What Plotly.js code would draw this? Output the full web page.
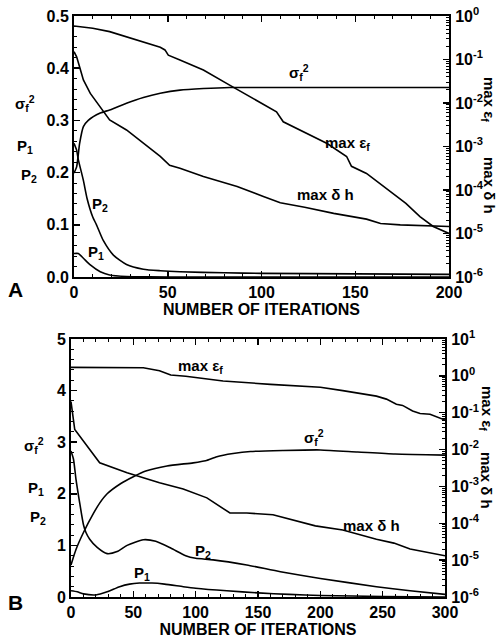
<!DOCTYPE html>
<html>
<head>
<meta charset="utf-8">
<script src="https://cdn.plot.ly/plotly-3.0.1.min.js"></script>
<style>html,body{margin:0;padding:0;background:#fff;}</style>
</head>
<body>
<div id="chart" style="width:499px;height:643px;"></div>
<script>
// ---------- Panel A (0..200 iterations) ----------
const aEpsIter = [0,10,19,28,37,46,48.5,50.3,56.5,69,83,95.6,108,111.6,120,126,135,145.4,148,156,165,177,184.5,191.6,200];
const aEps     = [0.589,0.525,0.437,0.331,0.251,0.191,0.166,0.126,0.0977,0.0575,0.0257,0.0129,0.0063,0.0037,0.00245,0.00182,0.00117,5.9e-4,3.5e-4,2.4e-4,1.2e-4,4.9e-5,2.45e-5,1.45e-5,1.0e-5];

const aDhIter = [0,1.4,3,5,8.7,14,19,28,37,46,51,56.5,69,87,101,110,123,138.5,156,163.5,174,200];
const aDh     = [0.151,0.115,0.0676,0.0339,0.0166,0.00813,0.00407,0.0024,0.00117,5.9e-4,3.7e-4,3.16e-4,2.04e-4,1.2e-4,7.1e-5,5.1e-5,4.0e-5,2.9e-5,2.14e-5,1.7e-5,1.58e-5,1.45e-5];

const aSigIter = [0,1.4,3,5,7.6,14,19,28,37,46,56.5,69,83,120,160,200];
const aSig     = [0.199,0.211,0.256,0.288,0.300,0.314,0.320,0.333,0.344,0.352,0.358,0.361,0.363,0.363,0.363,0.363];

const aP2Iter = [0,1.4,2.3,5,7,10,12,15.6,21,28,37,46,56.5,80,100,150,200];
const aP2     = [0.256,0.243,0.225,0.185,0.150,0.115,0.100,0.070,0.042,0.024,0.015,0.012,0.010,0.008,0.007,0.006,0.005];

const aP1Iter = [0,2.3,5,8.7,14,19,28,40,60,100,200];
const aP1     = [0.045,0.045,0.036,0.023,0.010,0.004,0.001,0.0003,0,0,0];

// ---------- Panel B (0..300 iterations) ----------
const bEpsIter = [0,30,58,71,80,92,122,160,200,218,245,253,261,266,274,280,288,300];
const bEps     = [1.70,1.70,1.66,1.38,1.05,0.977,0.724,0.589,0.49,0.398,0.282,0.234,0.17,0.158,0.112,0.0955,0.0912,0.063];

const bDhIter = [0,3,23,45,71,90,109,127.5,141,162,196,218,245,259,272,300];
const bDh     = [0.2,0.035,0.0044,0.00234,0.00126,8.5e-4,4.9e-4,1.9e-4,1.9e-4,1.7e-4,8.5e-5,6.6e-5,3.7e-5,2.9e-5,2.0e-5,1.32e-5];

const bSigIter = [0,4,10,18,23,29,40,50,60,77,98,108,117,130,144,170,200,230,260,300];
const bSig     = [0.62,0.92,1.25,1.62,1.82,2.00,2.20,2.33,2.44,2.54,2.60,2.64,2.72,2.78,2.82,2.84,2.85,2.81,2.77,2.75];

const bP2Iter = [0,2,4,7,10,12,15,21,29,37,45,58,68,80,92,100,114,141,168,200,245,272,300];
const bP2     = [2.83,2.67,2.28,1.82,1.40,1.25,1.12,0.96,0.84,0.88,1.00,1.11,1.08,0.95,0.80,0.75,0.72,0.62,0.49,0.36,0.20,0.12,0.05];

const bP1Iter = [0,5,10,20,29,39,47,55,65,75,90,100,125,150,175,200,250,300];
const bP1     = [0.12,0.10,0.06,0.04,0.10,0.20,0.25,0.27,0.27,0.25,0.20,0.17,0.12,0.08,0.05,0.03,0.01,0.0];

// tick labels
const aLeftTicks = [0,0.1,0.2,0.3,0.4,0.5];
const aLogTicks = [1e-6,1e-5,1e-4,1e-3,1e-2,1e-1,1];
const aLogText = ['10<sup>-6</sup>','10<sup>-5</sup>','10<sup>-4</sup>','10<sup>-3</sup>','10<sup>-2</sup>','10<sup>-1</sup>','10<sup>0</sup>'];
const aXTicks = [0,50,100,150,200];
const bLeftTicks = [0,1,2,3,4,5];
const bLogTicks = [1e-6,1e-5,1e-4,1e-3,1e-2,1e-1,1,10];
const bLogText = ['10<sup>-6</sup>','10<sup>-5</sup>','10<sup>-4</sup>','10<sup>-3</sup>','10<sup>-2</sup>','10<sup>-1</sup>','10<sup>0</sup>','10<sup>1</sup>'];
const bXTicks = [0,50,100,150,200,250,300];

function minorLog(lo, hi){ const v=[]; for(let e=lo;e<hi;e++){ for(let k=2;k<=9;k++) v.push(k*Math.pow(10,e)); } return v; }

const FONT = 'Liberation Sans, Arial, Helvetica, sans-serif';
const line = {color:'black', width:1.6};
const sline = {color:'black', width:1.6, shape:'spline', smoothing:0.6};

const traces = [
  {x:aEpsIter, y:aEps, xaxis:'x', yaxis:'y2', mode:'lines', line:line, name:'max eps_f'},
  {x:aDhIter, y:aDh, xaxis:'x', yaxis:'y2', mode:'lines', line:line, name:'max dh'},
  {x:aSigIter, y:aSig, xaxis:'x', yaxis:'y', mode:'lines', line:sline, name:'sigma_f^2'},
  {x:aP2Iter, y:aP2, xaxis:'x', yaxis:'y', mode:'lines', line:sline, name:'P2'},
  {x:aP1Iter, y:aP1, xaxis:'x', yaxis:'y', mode:'lines', line:sline, name:'P1'},
  {x:bEpsIter, y:bEps, xaxis:'x2', yaxis:'y4', mode:'lines', line:line, name:'max eps_f B'},
  {x:bDhIter, y:bDh, xaxis:'x2', yaxis:'y4', mode:'lines', line:line, name:'max dh B'},
  {x:bSigIter, y:bSig, xaxis:'x2', yaxis:'y3', mode:'lines', line:sline, name:'sigma_f^2 B'},
  {x:bP2Iter, y:bP2, xaxis:'x2', yaxis:'y3', mode:'lines', line:sline, name:'P2 B'},
  {x:bP1Iter, y:bP1, xaxis:'x2', yaxis:'y3', mode:'lines', line:sline, name:'P1 B'}
];

const tickfont = {family:FONT, size:16, color:'black', weight:'bold'};
const common = {showline:true, linecolor:'black', linewidth:2, showgrid:false, zeroline:false,
  ticks:'inside', ticklen:6, tickwidth:1.5, tickcolor:'black', tickfont:tickfont};

function px(x){return x/499;}
function py(y){return 1 - y/643;}

const layout = {
  width:499, height:643, margin:{l:0,r:0,t:0,b:0},
  paper_bgcolor:'white', plot_bgcolor:'white', showlegend:false,
  font:{family:FONT, size:15, color:'black', weight:'bold'},
  xaxis: Object.assign({}, common, {domain:[px(74),px(449)], anchor:'y', range:[0,200], tickvals:aXTicks,
    mirror:'ticks', minor:{dtick:10, ticks:'inside', ticklen:3, tickwidth:1, tickcolor:'black'},
    title:{text:'NUMBER OF ITERATIONS', font:{family:FONT, size:16, weight:'bold'}, standoff:0}}),
  yaxis: Object.assign({}, common, {domain:[py(277),py(16)], anchor:'x', range:[0,0.5], tickvals:aLeftTicks,
    tickformat:'.1f', ticklabelstandoff:0, minor:{dtick:0.02, ticks:'inside', ticklen:3, tickwidth:1, tickcolor:'black'}}),
  yaxis2: Object.assign({}, common, {overlaying:'y', side:'right', anchor:'x', type:'log', range:[-6,0],
    tickvals:aLogTicks, ticktext:aLogText, ticklabelstandoff:1,
    minor:{tickvals:minorLog(-6,0), ticks:'inside', ticklen:3, tickwidth:1, tickcolor:'black'}}),
  xaxis2: Object.assign({}, common, {domain:[px(71),px(445)], anchor:'y3', range:[0,300], tickvals:bXTicks,
    mirror:'ticks', minor:{dtick:10, ticks:'inside', ticklen:3, tickwidth:1, tickcolor:'black'},
    title:{text:'NUMBER OF ITERATIONS', font:{family:FONT, size:16, weight:'bold'}, standoff:0}}),
  yaxis3: Object.assign({}, common, {domain:[py(597),py(339)], anchor:'x2', range:[0,5], tickvals:bLeftTicks,
    ticklabelstandoff:0, minor:{dtick:0.2, ticks:'inside', ticklen:3, tickwidth:1, tickcolor:'black'}}),
  yaxis4: Object.assign({}, common, {overlaying:'y3', side:'right', anchor:'x2', type:'log', range:[-6,1],
    tickvals:bLogTicks, ticktext:bLogText, ticklabelstandoff:1,
    minor:{tickvals:minorLog(-6,1), ticks:'inside', ticklen:3, tickwidth:1, tickcolor:'black'}}),
  annotations: []
};

const af = {family:FONT, size:15, color:'black', weight:'bold'};
function ann(text, x, y, xref, yref, extra){
  return Object.assign({text:text, x:x, y:y, xref:xref, yref:yref, showarrow:false, font:af,
    xanchor:'center', yanchor:'middle'}, extra||{});
}
layout.annotations.push(
  // panel A, inside
  ann('σ<sub>f</sub><sup>2</sup>', 120, 0.392, 'x', 'y'),
  ann('max ε<sub>f</sub>', 146, -2.92, 'x', 'y2'),
  ann('max δ h', 134, -4.1, 'x', 'y2'),
  ann('P<sub>2</sub>', 14, 0.138, 'x', 'y'),
  ann('P<sub>1</sub>', 11.5, 0.046, 'x', 'y'),
  // panel A, outside
  ann('σ<sub>f</sub><sup>2</sup>', px(25), py(103), 'paper', 'paper'),
  ann('P<sub>1</sub>', px(25), py(147), 'paper', 'paper'),
  ann('P<sub>2</sub>', px(29), py(175), 'paper', 'paper'),
  ann('max ε<sub>f</sub>', px(489), py(99), 'paper', 'paper', {textangle:90}),
  ann('max δ h', px(489), py(185), 'paper', 'paper', {textangle:90}),
  ann('A', px(16), py(289), 'paper', 'paper', {font:{family:FONT, size:21, color:'black', weight:'bold'}}),
  // panel B, inside
  ann('max ε<sub>f</sub>', 104, 0.25, 'x2', 'y4'),
  ann('σ<sub>f</sub><sup>2</sup>', 195, 3.1, 'x2', 'y3'),
  ann('max δ h', 241, -4.07, 'x2', 'y4'),
  ann('P<sub>2</sub>', 106, 0.89, 'x2', 'y3'),
  ann('P<sub>1</sub>', 57, 0.45, 'x2', 'y3'),
  // panel B, outside
  ann('σ<sub>f</sub><sup>2</sup>', px(34), py(445), 'paper', 'paper'),
  ann('P<sub>1</sub>', px(36), py(488), 'paper', 'paper'),
  ann('P<sub>2</sub>', px(38), py(517), 'paper', 'paper'),
  ann('max ε<sub>f</sub>', px(487), py(408), 'paper', 'paper', {textangle:90}),
  ann('max δ h', px(487), py(480), 'paper', 'paper', {textangle:90}),
  ann('B', px(16), py(602), 'paper', 'paper', {font:{family:FONT, size:21, color:'black', weight:'bold'}})
);

Plotly.newPlot('chart', traces, layout, {staticPlot:true, displayModeBar:false});
</script>
</body>
</html>
